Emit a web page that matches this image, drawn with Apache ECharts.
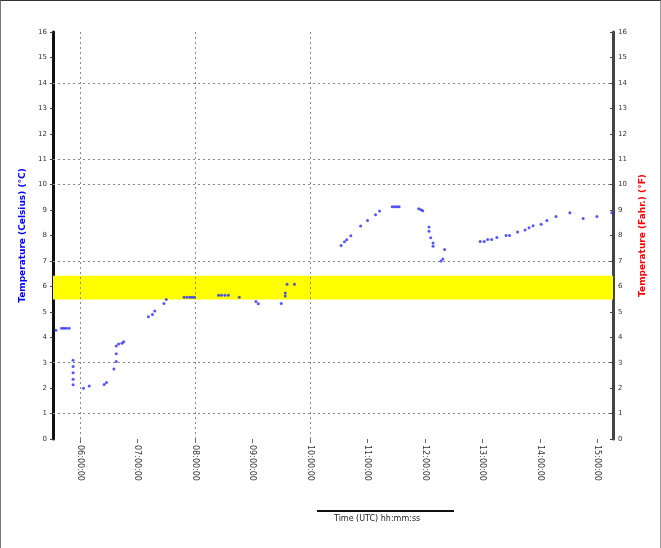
<!DOCTYPE html>
<html>
<head>
<meta charset="utf-8">
<script src="https://cdn.jsdelivr.net/npm/echarts@6/dist/echarts.min.js"></script>
<style>
  html, body { margin: 0; padding: 0; background: #fff; }
  #chart { width: 659px; height: 547px; border-left: 1px solid #777; border-top: 1px solid #333; border-right: 1px solid #999; }
</style>
</head>
<body>
<div id="chart"></div>
<script>
// x in hours from the first labelled tick, y in deg C
var xLabels = ['06:00:00', '07:00:00', '08:00:00', '09:00:00', '10:00:00',
               '11:00:00', '12:00:00', '13:00:00', '14:00:00', '15:00:00'];
var xTicks = [0, 1, 2, 3, 4, 5, 6, 7, 8, 9];
var yLabels = [0, 1, 2, 3, 4, 5, 6, 7, 8, 9, 10, 11, 12, 13, 14, 15, 16];
var hGrid = [14, 11, 10, 7, 3, 1];
var vGrid = [0, 2, 4];
var band = [5.48, 6.42];

var tempX = [-0.42, -0.32, -0.28, -0.24, -0.19, -0.12, -0.12, -0.12, -0.12, -0.12,
  0.06, 0.16, 0.42, 0.46, 0.59, 0.63, 0.63, 0.63, 0.67, 0.73, 0.76,
  1.19, 1.26, 1.30, 1.46, 1.50, 1.81, 1.86, 1.91, 1.95, 1.99, 2.41, 2.46, 2.52, 2.58,
  2.77, 3.06, 3.10, 3.50, 3.57, 3.57, 3.60, 3.73,
  4.54, 4.60, 4.64, 4.71, 4.88, 5.00, 5.14, 5.21, 5.43, 5.47, 5.51, 5.55,
  5.89, 5.93, 5.96, 6.07, 6.07, 6.10, 6.14, 6.14, 6.28, 6.31, 6.34,
  6.96, 7.03, 7.09, 7.16, 7.25, 7.41, 7.47, 7.61, 7.74, 7.81, 7.88,
  8.02, 8.12, 8.28, 8.52, 8.75, 8.99, 9.25];
var tempY = [4.28, 4.35, 4.35, 4.35, 4.35, 3.10, 2.85, 2.60, 2.35, 2.13,
  2.00, 2.08, 2.14, 2.22, 2.75, 3.05, 3.35, 3.66, 3.73, 3.76, 3.82,
  4.81, 4.89, 5.03, 5.33, 5.48, 5.57, 5.57, 5.57, 5.57, 5.57, 5.65, 5.65, 5.65, 5.65,
  5.57, 5.41, 5.32, 5.33, 5.62, 5.74, 6.08, 6.08,
  7.61, 7.75, 7.83, 7.99, 8.37, 8.59, 8.82, 8.96, 9.13, 9.13, 9.13, 9.13,
  9.05, 9.01, 8.97, 8.33, 8.17, 7.91, 7.71, 7.58, 7.00, 7.08, 7.45,
  7.76, 7.76, 7.84, 7.84, 7.92, 8.00, 8.00, 8.14, 8.22, 8.30, 8.38,
  8.44, 8.59, 8.75, 8.89, 8.67, 8.75, 8.89];

var points = tempX.map(function (x, i) { return [x, tempY[i]]; });
var gridStyle = { color: '#888', type: [2, 3], width: 1 };

var chart = echarts.init(document.getElementById('chart'));
chart.setOption({
  animation: false,
  grid: { left: 52, right: 47, top: 31, bottom: 109 },
  xAxis: {
    type: 'value', min: -0.47, max: 9.27,
    axisLine: { show: false },
    axisTick: { show: true, customValues: xTicks, length: 4, lineStyle: { color: '#666' } },
    splitLine: { show: false },
    axisLabel: {
      customValues: xTicks, rotate: -90, fontSize: 8, color: '#333', margin: 6,
      fontFamily: 'DejaVu Sans',
      formatter: function (v) { return xLabels[Math.round(v)]; }
    }
  },
  yAxis: [{
    type: 'value', min: 0, max: 16, interval: 1,
    name: 'Temperature (Celsius) (°C)', nameLocation: 'middle', nameGap: 21,
    nameTextStyle: { color: '#0000ff', fontSize: 9, fontWeight: 'bold', fontFamily: 'DejaVu Sans' },
    axisLine: { show: true, onZero: false, lineStyle: { color: '#111', width: 3 } },
    axisTick: { show: true, length: 3, lineStyle: { color: '#444' } },
    splitLine: { show: false },
    axisLabel: { fontSize: 7, color: '#333', margin: 6, fontFamily: 'DejaVu Sans',
      formatter: function (v) { return yLabels[v]; } }
  }, {
    type: 'value', min: 0, max: 16, interval: 1, position: 'right',
    name: 'Temperature (Fahr.) (°F)', nameLocation: 'middle', nameGap: 25,
    nameTextStyle: { color: '#ff0000', fontSize: 9, fontWeight: 'bold', fontFamily: 'DejaVu Sans' },
    axisLine: { show: true, onZero: false, lineStyle: { color: '#444', width: 3 } },
    axisTick: { show: true, length: 3, inside: true, lineStyle: { color: '#444' } },
    splitLine: { show: false },
    axisLabel: { fontSize: 7, color: '#333', margin: 5, fontFamily: 'DejaVu Sans',
      formatter: function (v) { return yLabels[v]; } }
  }],
  series: [{
    type: 'scatter',
    data: points,
    symbolSize: 3,
    itemStyle: { color: '#2a2aff' },
    markArea: {
      silent: true,
      itemStyle: { color: '#ffff00' },
      data: [[{ yAxis: band[0] }, { yAxis: band[1] }]]
    },
    markLine: {
      silent: true, symbol: 'none',
      label: { show: false },
      lineStyle: gridStyle,
      data: hGrid.map(function (v) { return { yAxis: v }; })
        .concat(vGrid.map(function (v) { return { xAxis: v }; }))
    },
    z: 5
  }],
  graphic: [
    { type: 'line', shape: { x1: 316, y1: 510, x2: 453, y2: 510 },
      style: { stroke: '#111', lineWidth: 2 } },
    { type: 'text', left: 333, top: 514,
      style: { text: 'Time (UTC) hh:mm:ss', fontSize: 8, fill: '#222', fontFamily: 'DejaVu Sans' } }
  ]
});
</script>
</body>
</html>
